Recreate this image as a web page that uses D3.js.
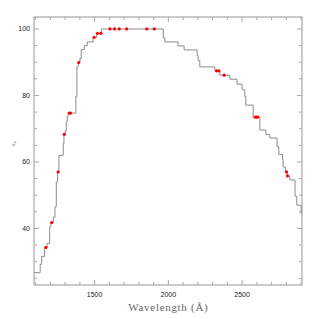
<!DOCTYPE html>
<html>
<head>
  <meta charset="utf-8">
  <style>
    body { margin: 0; background: #fff; }
    svg { display: block; }
  </style>
</head>
<body>
  <div id="chart"></div>
  <script src="https://d3js.org/d3.v7.min.js"></script>
  <script>

    // step curve: wavelength where each step starts, and its value (%)
    var stepWave = [1089, 1131, 1141, 1161, 1177, 1195, 1204, 1220, 1231, 1240, 1249, 1258, 1287, 1292,
      1301, 1308, 1314, 1321, 1373, 1380, 1389, 1400, 1409, 1430, 1450, 1490, 1514, 1545,
      1965, 1976, 2066, 2107, 2195, 2202, 2213, 2315, 2349, 2417, 2466, 2500, 2518, 2525,
      2575, 2620, 2661, 2688, 2737, 2749, 2774, 2778, 2793, 2805, 2823, 2859, 2871, 2900, 2906]
    var stepValue = [26.7, 29.2, 31.6, 34.3, 35.5, 40.5, 41.8, 43.4, 46.5, 54, 57, 62, 65.5, 68.3,
      69.5, 72.1, 73.7, 74.7, 79.7, 88.6, 89.9, 91.1, 93.8, 95, 96.1, 97.5, 98.7, 100,
      97.3, 96.1, 94.9, 93.7, 92, 90.5, 88.6, 87.4, 86.1, 84.9, 83.4, 81.7, 79.7, 77.1,
      73.5, 69.6, 68.3, 67.2, 64.6, 62.3, 60.8, 58.5, 57, 55.8, 54.6, 49.7, 47, 44.6, 44.6]

    // red points
    var pointWave = [1170, 1209, 1253, 1294, 1328, 1337, 1392, 1497, 1520, 1543, 1604, 1635, 1667,
      1717, 1854, 1904, 2327, 2342, 2378, 2588, 2597, 2606, 2801, 2808]
    var pointValue = [34.3, 41.8, 57, 68.3, 74.7, 74.7, 89.9, 97.5, 98.7, 98.7, 100, 100, 100,
      100, 100, 100, 87.4, 87.4, 86.1, 73.5, 73.5, 73.5, 57, 55.8]

    var xTicks = [1500, 2000, 2500]
    var yTicks = [40, 60, 80, 100]

    var margin = {top: 17, right: 17, bottom: 34, left: 34}
    var width = 319 - margin.left - margin.right,
        height = 319 - margin.top - margin.bottom

    var axisColor = "#a8a8a8"

    var svg = d3.select("#chart")
        .append("svg")
        .attr("width", 319)
        .attr("height", 319)
        .append("g")
        .attr("transform", "translate(" + margin.left + "," + margin.top + ")")

    var x = d3.scaleLinear().domain([1089, 2906]).range([0, width])
    var y = d3.scaleLinear().domain([23, 103.6]).range([height, 0])

    var minorX = d3.range(1100, 2901, 100)
    var minorY = d3.range(25, 101, 5)

    // frame
    svg.append("rect")
        .attr("width", width)
        .attr("height", height)
        .attr("fill", "none")
        .attr("stroke", axisColor)
        .attr("stroke-width", 1.2)

    // ticks on all four sides
    var ticks = svg.append("g").attr("stroke", axisColor).attr("stroke-width", 1)
    minorX.forEach(function (v) {
      var len = xTicks.indexOf(v) >= 0 ? 5 : 3
      ticks.append("line").attr("x1", x(v)).attr("x2", x(v)).attr("y1", height).attr("y2", height - len)
      ticks.append("line").attr("x1", x(v)).attr("x2", x(v)).attr("y1", 0).attr("y2", len)
    })
    minorY.forEach(function (v) {
      var len = yTicks.indexOf(v) >= 0 ? 5 : 3
      ticks.append("line").attr("y1", y(v)).attr("y2", y(v)).attr("x1", 0).attr("x2", len)
      ticks.append("line").attr("y1", y(v)).attr("y2", y(v)).attr("x1", width).attr("x2", width - len)
    })

    // tick labels
    svg.append("g").selectAll("text")
        .data(xTicks)
        .enter().append("text")
        .attr("x", d => x(d))
        .attr("y", height + 12)
        .attr("text-anchor", "middle")
        .style("font", "7px 'Liberation Sans', Arial, sans-serif")
        .attr("fill", "#222")
        .text(d => d)

    svg.append("g").selectAll("text")
        .data(yTicks)
        .enter().append("text")
        .attr("x", -4)
        .attr("y", d => y(d) + 2.5)
        .attr("text-anchor", "end")
        .style("font", "7px 'Liberation Sans', Arial, sans-serif")
        .attr("fill", "#222")
        .text(d => d)

    // axis titles
    svg.append("text")
        .attr("x", x(2000))
        .attr("y", height + 26)
        .attr("text-anchor", "middle")
        .style("font", "11px 'Liberation Serif', serif")
        .style("letter-spacing", "0.7px")
        .attr("fill", "#666")
        .text("Wavelength (Å)")

    svg.append("text")
        .attr("transform", "translate(" + (-22) + "," + (y(65.5)) + ") rotate(90)")
        .attr("text-anchor", "middle")
        .style("font", "7px 'Liberation Serif', serif")
        .attr("fill", "#777")
        .text("%")

    // step line
    var steps = stepWave.map(function (w, i) { return [w, stepValue[i]] })
    var line = d3.line()
        .x(d => x(d[0]))
        .y(d => y(d[1]))
        .curve(d3.curveStepAfter)

    svg.append("path")
        .datum(steps)
        .attr("d", line)
        .attr("fill", "none")
        .attr("stroke", "#8c8c8c")
        .attr("stroke-width", 1)

    // points
    svg.append("g").selectAll("circle")
        .data(pointWave.map(function (w, i) { return [w, pointValue[i]] }))
        .enter().append("circle")
        .attr("cx", d => x(d[0]))
        .attr("cy", d => y(d[1]))
        .attr("r", 1.6)
        .attr("fill", "#ff0000")

  </script>
</body>
</html>
